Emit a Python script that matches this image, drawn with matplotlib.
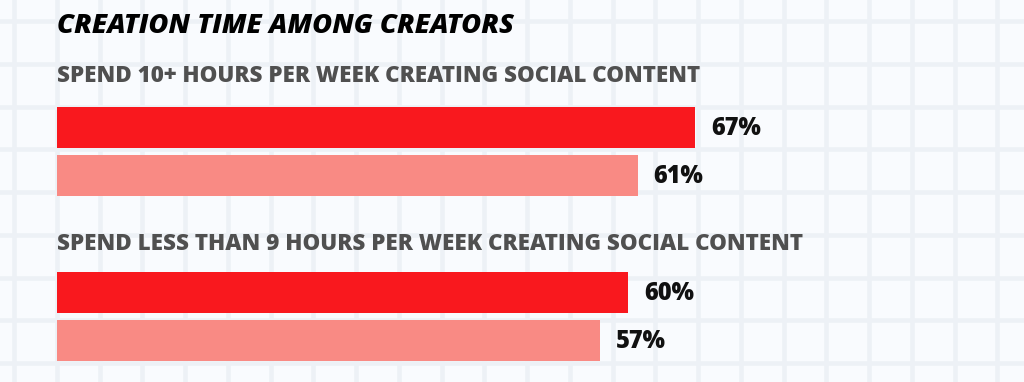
import matplotlib
matplotlib.use("Agg")
import matplotlib.pyplot as plt
import numpy as np

title = "CREATION TIME AMONG CREATORS"
groups = ["SPEND 10+ HOURS PER WEEK CREATING SOCIAL CONTENT",
          "SPEND LESS THAN 9 HOURS PER WEEK CREATING SOCIAL CONTENT"]
series_a = [67, 60]   # bright red bars
series_b = [61, 57]   # salmon bars
labels_a = ["67%", "60%"]
labels_b = ["61%", "57%"]

W, H = 1024, 382
fig = plt.figure(figsize=(W / 100, H / 100), dpi=100)
fig.patch.set_facecolor("#f9fbfe")

# background grid axes (pixel coordinates)
bg = fig.add_axes([0, 0, 1, 1])
bg.set_xlim(0, W)
bg.set_ylim(H, 0)
bg.axis("off")
step = 42.75
for x in np.arange(14, W + step, step):
    bg.axvline(x, color="#edf1f6", lw=3.3, zorder=0)
for y in np.arange(21 - step, H + step, step):
    bg.axhline(y, color="#edf1f6", lw=3.3, zorder=0)

# data axes: x in percent, y in pixel layout
ax = fig.add_axes([0, 0, 1, 1])
ax.patch.set_alpha(0)
px_per_pct = 9.52
x0 = 57
ax.set_xlim(-x0 / px_per_pct, (W - x0) / px_per_pct)
ax.set_ylim(H, 0)
ax.axis("off")

red = "#f9181e"
salmon = "#f98a84"
ya = [127.5, 292.5]
yb = [175.5, 340.5]
hgt = 41
ax.barh(ya, series_a, height=hgt, color=red, zorder=3)
ax.barh(yb, series_b, height=hgt, color=salmon, zorder=3)

lab_kw = dict(fontsize=17, fontweight="heavy", color="#111111",
              family=["Open Sans", "DejaVu Sans"], va="center", ha="left", zorder=4)
for v, y, t in zip(series_a, ya, labels_a):
    ax.text(v + 16 / px_per_pct, y + 1, t, **lab_kw)
for v, y, t in zip(series_b, yb, labels_b):
    ax.text(v + 16 / px_per_pct, y + 1, t, **lab_kw)

ax.text(0, 26, title, fontsize=19.6, fontweight="heavy", style="italic",
        color="#000000", family=["Open Sans", "DejaVu Sans"], va="center", ha="left")

sub_kw = dict(fontsize=16.1, fontweight="heavy", color="#505050",
              family=["Open Sans", "DejaVu Sans"], va="center", ha="left")
ax.text(0, 75.5, groups[0], **sub_kw)
ax.text(0, 244.5, groups[1], **sub_kw)

fig.savefig("out.png", dpi=100, facecolor=fig.get_facecolor())
